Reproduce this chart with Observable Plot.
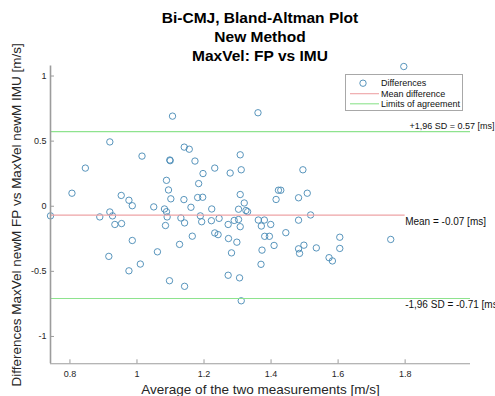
<!DOCTYPE html>
<html><head><meta charset="utf-8">
<script src="https://cdn.jsdelivr.net/npm/d3@7"></script>
<script src="https://cdn.jsdelivr.net/npm/@observablehq/plot@0.6"></script>
<style>
body{margin:0;background:#fff;font-family:"Liberation Sans",Arial,sans-serif;}
#wrap{position:relative;width:495px;height:396px;overflow:hidden;background:#fff;}
#title{position:relative;z-index:2;height:60px;box-sizing:border-box;padding-top:7.5px;padding-left:25px;text-align:center;font-weight:bold;font-size:15.5px;line-height:19px;color:#000;pointer-events:none;}
#chart{position:absolute;left:0;top:60px;}
#legend{position:absolute;left:345px;top:74px;width:118px;height:37px;box-sizing:border-box;border:1px solid #a8a8a8;background:#fff;z-index:3;}
#legend svg{position:absolute;left:-1px;top:-1px;}
</style>
</head><body>
<div id="wrap">
  <div id="title"></div>
  <div id="chart"></div>
  <div id="legend"></div>
</div>
<script>
// ---- data ----
const titleLines = ["Bi-CMJ, Bland-Altman Plot", "New Method", "MaxVel: FP vs IMU"];
const xLabel = "Average of the two measurements [m/s]";
const yLabel = "Differences MaxVel newM FP vs MaxVel newM IMU [m/s]";
const legendLabels = ["Differences", "Mean difference", "Limits of agreement"];
const xTicks = [0.8, 1, 1.2, 1.4, 1.6, 1.8];
const yTicks = [-1, -0.5, 0, 0.5, 1];
const avg = [
  1.106,0.919,1.141,1.156,1.015,1.098,1.099,0.846,1.088,0.806,1.094,0.953,0.976,1.101,1.140,0.986,1.050,1.082,1.088,0.919,
  0.742,0.889,0.927,1.090,1.131,1.142,0.934,0.954,1.085,1.161,0.986,1.127,1.165,1.061,0.916,1.010,0.976,1.097,1.142,
  1.361,1.308,1.173,1.232,1.311,1.197,1.278,1.495,1.184,1.422,1.429,1.508,1.308,1.181,1.196,1.415,1.482,1.320,1.223,1.303,
  1.325,1.330,1.189,1.245,1.518,1.193,1.222,1.290,1.303,1.362,1.380,1.482,1.272,1.308,1.371,1.399,1.232,1.242,1.273,1.298,
  1.381,1.395,1.444,1.409,1.373,1.282,1.482,1.485,1.498,1.535,1.573,1.370,1.272,1.306,1.311,
  1.796,1.605,1.605,1.757,1.583
];
const diff = [
  0.692,0.494,0.454,0.438,0.385,0.355,0.350,0.293,0.199,0.100,0.125,0.083,0.046,0.057,0.051,0.004,-0.005,-0.021,-0.042,-0.044,
  -0.074,-0.082,-0.074,-0.082,-0.090,-0.128,-0.140,-0.133,-0.148,-0.008,-0.263,-0.293,-0.230,-0.350,-0.385,-0.444,-0.496,-0.572,-0.615,
  0.718,0.395,0.347,0.293,0.280,0.251,0.255,0.280,0.174,0.123,0.123,0.100,0.090,0.067,0.069,0.052,0.065,0.025,-0.021,-0.023,
  -0.033,-0.042,-0.074,-0.093,-0.067,-0.119,-0.111,-0.109,-0.102,-0.106,-0.106,-0.107,-0.140,-0.157,-0.152,-0.140,-0.205,-0.218,-0.248,-0.276,
  -0.231,-0.231,-0.203,-0.301,-0.337,-0.358,-0.327,-0.362,-0.299,-0.320,-0.395,-0.446,-0.530,-0.550,-0.726,
  1.073,-0.238,-0.324,-0.255,-0.420
];
const meanDiff = -0.068;
const loaUpper = 0.573;
const loaLower = -0.709;
const meanLabel = "Mean = -0.07 [ms]";
const upperLabel = "+1,96 SD = 0.57 [ms]";
const lowerLabel = "-1,96 SD = -0.71 [ms]";
const meanLineEnd = 1.8;

// ---- styles ----
const xDomain = [0.742, 1.995];
const yDomain = [-1.21, 1.077];
const dotColor = "#4689b4";
const meanColor = "#eea3a6";
const loaColor = "#8ee38e";
const axisColor = "#9c9c9c";
const txt = "#262626";

document.getElementById("title").innerHTML = titleLines.map(t => `<div>${t}</div>`).join("");

const pts = avg.map((a, i) => ({a, d: diff[i]}));

const chart = Plot.plot({
  width: 495, height: 336,
  marginLeft: 50, marginRight: 25, marginTop: 5.5, marginBottom: 32.7,
  style: {background: "transparent", fontFamily: "Liberation Sans, Arial, sans-serif", color: txt, overflow: "visible"},
  x: {domain: xDomain},
  y: {domain: yDomain},
  marks: [
    Plot.dot(pts, {x: "a", y: "d", r: 3.2, stroke: dotColor, strokeWidth: 0.9}),
    Plot.ruleY([meanDiff], {x1: xDomain[0], x2: meanLineEnd, stroke: meanColor, strokeWidth: 1.1}),
    Plot.ruleY([loaUpper, loaLower], {x1: xDomain[0], x2: xDomain[1], stroke: loaColor, strokeWidth: 1.1}),
    Plot.ruleX([xDomain[0]], {stroke: axisColor, strokeWidth: 1.6}),
    Plot.ruleY([yDomain[0]], {stroke: axisColor, strokeWidth: 1.1}),
    Plot.axisX({ticks: xTicks, tickSize: 0, tickPadding: 6.5, tickFormat: d => String(d), fontSize: 9, label: null}),
    Plot.axisX({ticks: xTicks, tickSize: -4, tickFormat: () => "", stroke: axisColor, label: null}),
    Plot.axisY({ticks: yTicks, tickSize: 0, tickPadding: 4, tickFormat: d => String(d), fontSize: 9, label: null}),
    Plot.axisY({ticks: yTicks, tickSize: -4, tickFormat: () => "", stroke: axisColor, label: null}),
    Plot.text([meanLabel], {x: meanLineEnd, y: meanDiff, dy: 6.4, textAnchor: "start", fontSize: 10, fill: "#111"}),
    Plot.text([lowerLabel], {x: meanLineEnd, y: loaLower, dy: 6.7, textAnchor: "start", fontSize: 10, fill: "#111"}),
    Plot.text([upperLabel], {x: xDomain[1], y: loaUpper, dx: 24, dy: -5.3, textAnchor: "end", fontSize: 9, fill: "#111"}),
    Plot.text([xLabel], {frameAnchor: "bottom", dy: 25.7, textAnchor: "middle", lineAnchor: "middle", fontSize: 13.5, fill: txt}),
    Plot.text([yLabel], {frameAnchor: "left", rotate: -90, dx: -34, textAnchor: "middle", lineAnchor: "middle", fontSize: 13.5, fill: txt})
  ]
});
document.getElementById("chart").appendChild(chart);

// ---- legend (inside axes, upper right) ----
const lg = d3.select("#legend").append("svg").attr("width", 118).attr("height", 37)
  .style("font-family", "Liberation Sans, Arial, sans-serif");
const rowsY = [9.2, 19.7, 29.8];
lg.append("circle").attr("cx", 18).attr("cy", rowsY[0]).attr("r", 3.2)
  .attr("fill", "none").attr("stroke", dotColor).attr("stroke-width", 0.9);
lg.append("line").attr("x1", 5).attr("x2", 34).attr("y1", rowsY[1]).attr("y2", rowsY[1])
  .attr("stroke", meanColor).attr("stroke-width", 1.1);
lg.append("line").attr("x1", 5).attr("x2", 34).attr("y1", rowsY[2]).attr("y2", rowsY[2])
  .attr("stroke", loaColor).attr("stroke-width", 1.1);
lg.selectAll("text").data(legendLabels).join("text")
  .attr("x", 36).attr("y", (d, i) => rowsY[i]).attr("dy", "0.35em")
  .attr("font-size", 9).attr("fill", "#111").text(d => d);
</script>
</body></html>
